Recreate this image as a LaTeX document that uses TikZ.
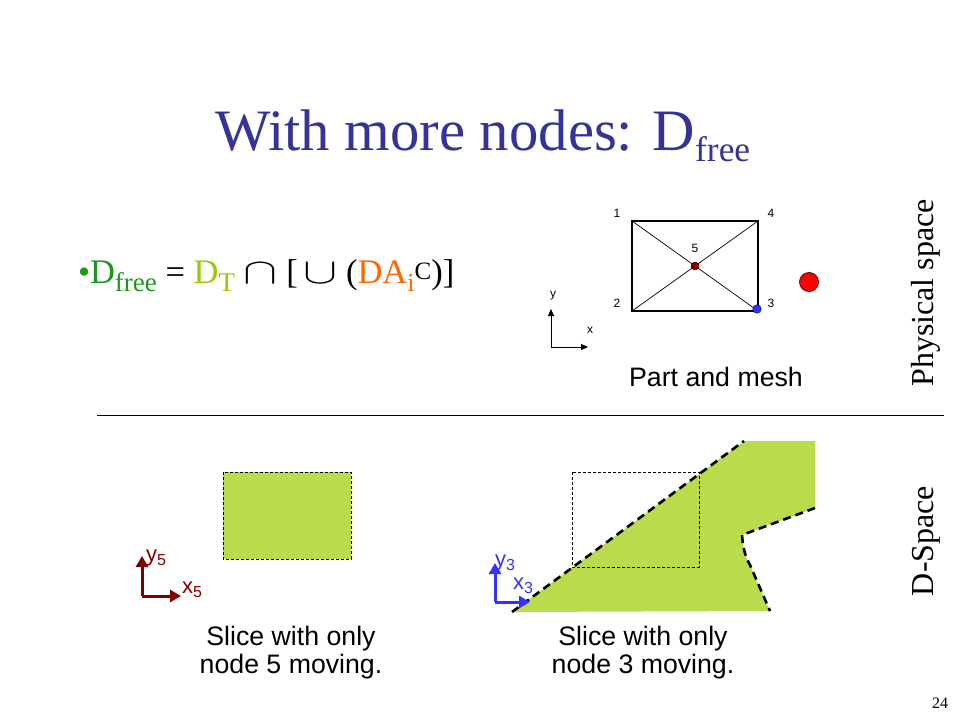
\documentclass[tikz,border=0pt]{standalone}
\usepackage{fontspec}
\usepackage{graphicx}
\setmainfont{Liberation Serif}
\setsansfont{Liberation Sans}
\usetikzlibrary{arrows.meta}
\definecolor{titleblue}{HTML}{333399}
\definecolor{dfreegreen}{HTML}{1E961E}
\definecolor{dtgreen}{HTML}{99CC00}
\definecolor{daorange}{HTML}{FF6600}
\definecolor{fillgreen}{RGB}{186,220,76}
\definecolor{darkred}{HTML}{800000}
\definecolor{axblue}{HTML}{3333FF}
\newcommand\lowtxt[3]{\raisebox{#1}{\fontsize{#2}{#2}\selectfont #3}}
\newcommand\bigsym[1]{\scalebox{2.05}[1.45]{$#1$}}
\begin{document}
\begin{tikzpicture}[x=1pt,y=-1pt,
  txt/.style={inner sep=0pt, outer sep=0pt},
  meshlbl/.style={txt, font=\fontsize{12}{12}\selectfont\sffamily},
  arial/.style={txt, font=\fontsize{26.7}{28}\selectfont\sffamily, align=center},
  axlbl/.style={txt, anchor=base west, font=\fontsize{22}{22}\selectfont\sffamily},
  axthin/.style={line width=0.9pt, -{Triangle[length=7pt,width=6pt]}},
  axthick/.style={line width=3pt, -{Triangle[length=11pt,width=12pt]}},
  thindash/.style={line width=0.8pt, dash pattern=on 3pt off 2pt},
  thickdash/.style={line width=2.6pt, dash pattern=on 8pt off 5pt},
]
\useasboundingbox[fill=white] (0,0) rectangle (960,720);

% Title
\node[txt, anchor=base west, text=titleblue] (title) at (215,150)
  {\fontsize{58.7}{60}\selectfont With more nodes: D\lowtxt{-11pt}{35.4}{free}};

% Formula
\node[txt, anchor=base west] (formula) at (78,283)
  {\fontsize{34.5}{38}\selectfont\textcolor{dfreegreen}{\textbullet D\lowtxt{-8pt}{27}{free}} = \textcolor{dtgreen}{D\lowtxt{-8pt}{27}{T}} \bigsym{\cap} [\hspace{-3pt} \bigsym{\cup} (\textcolor{daorange}{DA\lowtxt{-8pt}{26}{i}}\lowtxt{4pt}{25}{C})]};

% Mesh
\coordinate (n1) at (632,221);
\coordinate (n4) at (758,221);
\coordinate (n2) at (632,311);
\coordinate (n3) at (758,311);
\coordinate (n5) at (695,266);
\draw[line width=1.2pt] (n1) -- (n4) -- (n3) -- (n2) -- cycle;
\draw[line width=0.7pt] (n1) -- (n3);
\draw[line width=0.7pt] (n2) -- (n4);
\node[circle, fill=darkred, draw=black!70!darkred, line width=0.5pt, minimum size=8pt, inner sep=0pt] (dot5) at (n5) {};
\node[circle, fill=axblue, draw=blue!60!black, line width=0.5pt, minimum size=8.5pt, inner sep=0pt] (dot3) at (757,309) {};
\node[circle, fill=red, draw=black!60!red, line width=0.8pt, minimum size=19pt, inner sep=0pt] (obst) at (809,282) {};
\node[meshlbl] (l1) at (617,213) {1};
\node[meshlbl] (l4) at (771,213) {4};
\node[meshlbl] (l5) at (695,248) {5};
\node[meshlbl] (l2) at (617,303) {2};
\node[meshlbl] (l3) at (771,303) {3};
\coordinate (mo) at (551,347);
\coordinate (my) at (551,309);
\coordinate (mx) at (588,347);
\draw[axthin] (mo) -- (my);
\draw[axthin] (mo) -- (mx);
\node[meshlbl] (ly) at (553,296) {y};
\node[meshlbl] (lx) at (590,330) {x};
\node[arial, anchor=base] (pm) at (716,386) {Part and mesh};

% Right labels
\node[txt, rotate=90, anchor=base, font=\fontsize{32}{34}\selectfont] (phys) at (933,293) {Physical space};
\node[txt, rotate=90, anchor=base, font=\fontsize{32}{34}\selectfont] (dsp) at (933,541) {D-Space};

% Separator
\coordinate (s1) at (97,415);
\coordinate (s2) at (944,415);
\draw[line width=0.9pt] (s1) -- (s2);

% Left slice
\draw[thindash, fill=fillgreen] (223,472) rectangle (351,559);
\coordinate (o5) at (142,596);
\coordinate (y5) at (142,556);
\coordinate (x5) at (181,596);
\draw[axthick, darkred] (o5) -- (y5);
\draw[axthick, darkred] (o5) -- (x5);
\node[axlbl, text=darkred] (ly5) at (146,561) {y\lowtxt{-4pt}{16}{5}};
\node[axlbl, text=darkred] (lx5) at (182,593) {x\lowtxt{-4pt}{16}{5}};
\node[arial, anchor=base] (cap5) at (291,673) {Slice with only\\node 5 moving.};

% Right slice
\coordinate (pA) at (512,612);
\coordinate (pB) at (744,441);
\coordinate (pC) at (815,441);
\coordinate (pD) at (815,508);
\coordinate (pE) at (742,535);
\coordinate (pF) at (750,565);
\coordinate (pG) at (770,611);
\fill[fillgreen] (pA) -- (pB) -- (pC) -- (pD) -- (pE) .. controls (743,548) and (745,556) .. (pF) -- (pG) -- cycle;
\draw[thindash] (572,472) rectangle (699,567);
\draw[thickdash] (pA) -- (pB);
\draw[thickdash] (pD) -- (pE) .. controls (743,548) and (745,556) .. (pF) -- (pG);
\coordinate (o3) at (495,602);
\coordinate (y3) at (495,563);
\coordinate (x3) at (530,602);
\draw[axthick, axblue] (o3) -- (y3);
\draw[axthick, axblue] (o3) -- (x3);
\node[axlbl, text=axblue] (ly3) at (495,566) {y\lowtxt{-4pt}{16}{3}};
\node[axlbl, text=axblue] (lx3) at (513,589) {x\lowtxt{-4pt}{16}{3}};
\node[arial, anchor=base] (cap3) at (643,673) {Slice with only\\node 3 moving.};

% Page number
\node[txt, anchor=base, font=\fontsize{16}{16}\selectfont] (pg) at (940,708) {24};
\end{tikzpicture}
\end{document}
